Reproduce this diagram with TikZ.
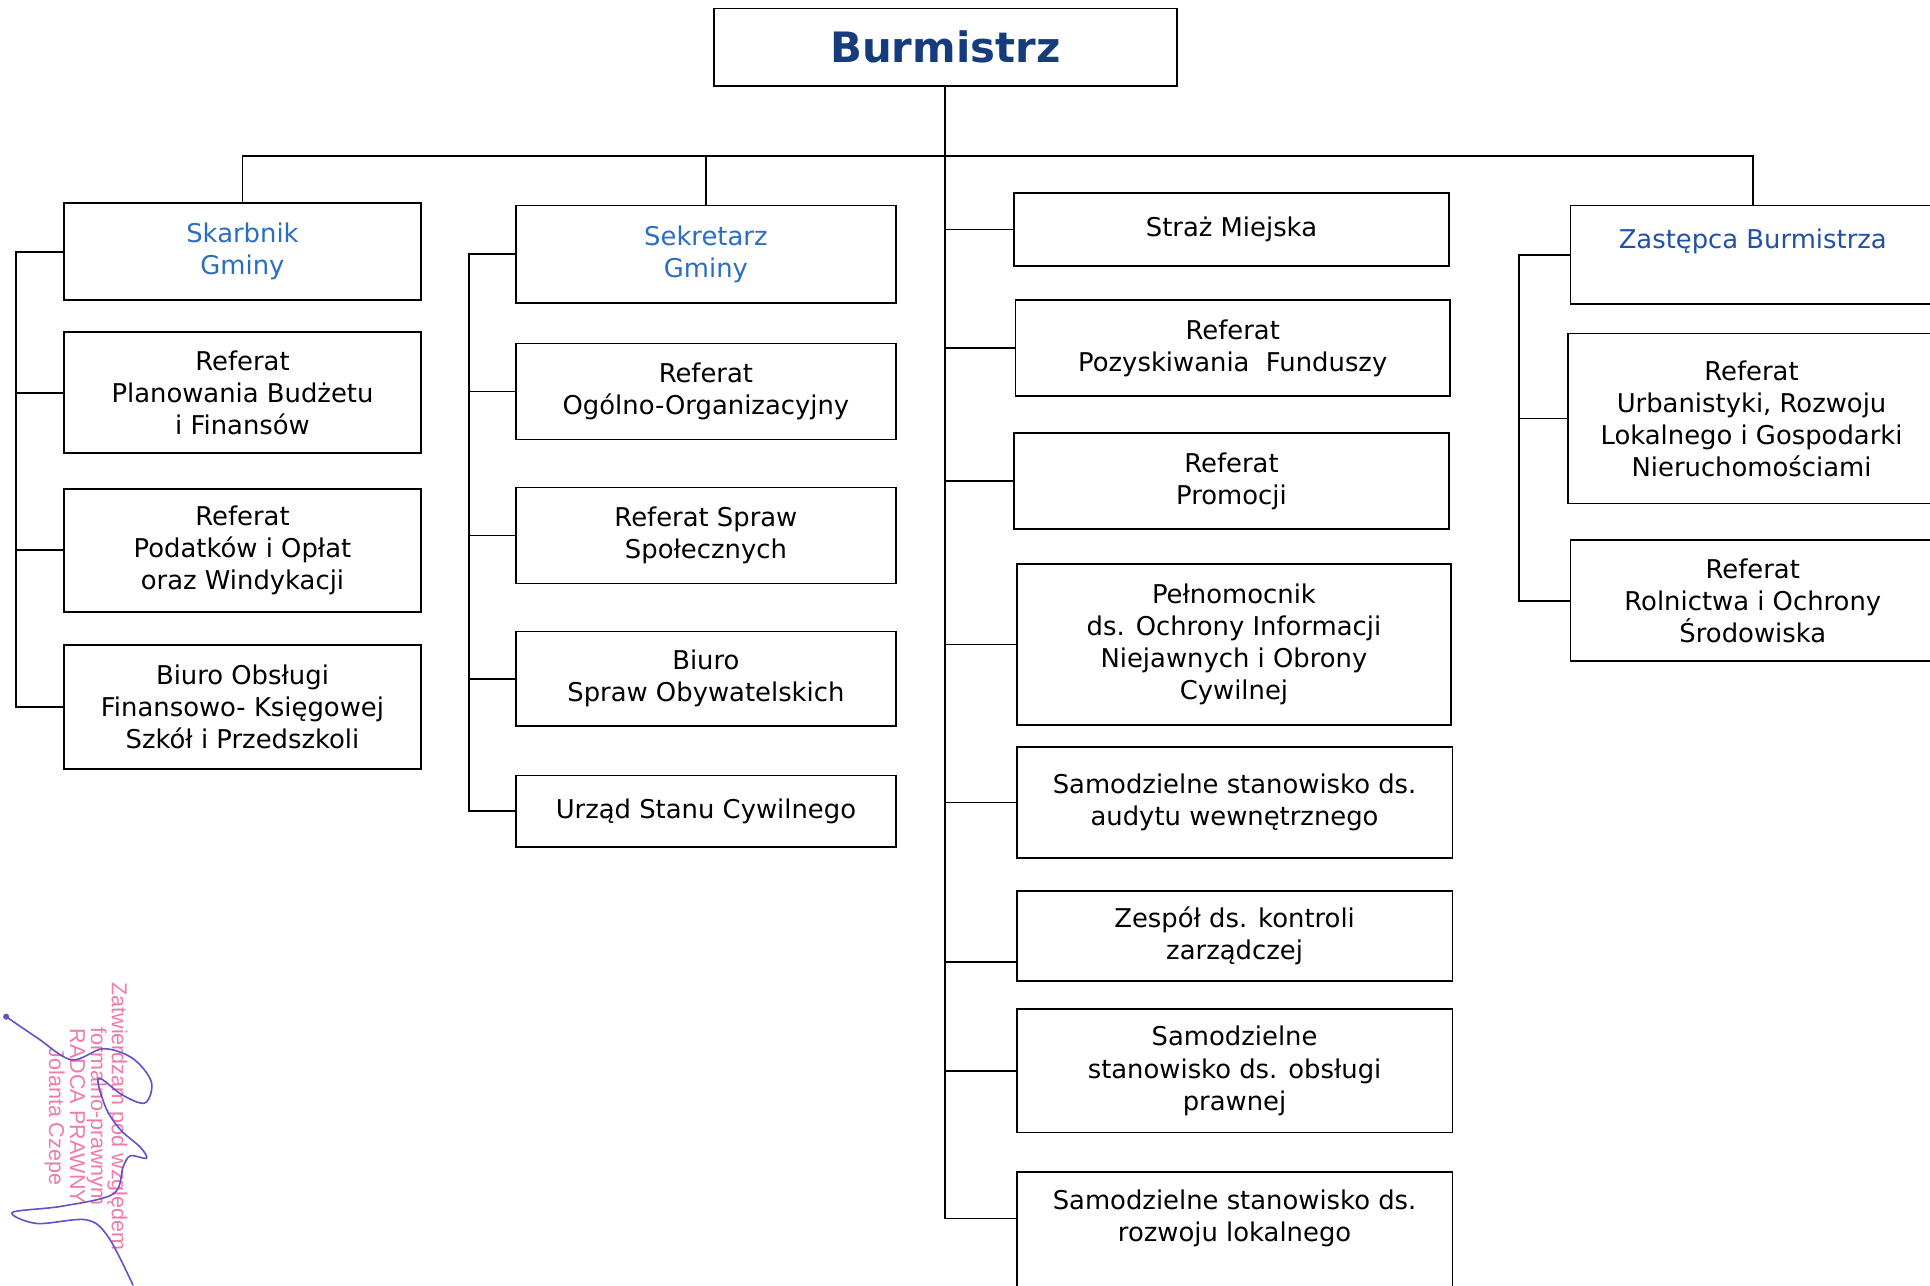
\documentclass[tikz,border=0pt]{standalone}
\usepackage{fontspec}
\setmainfont{DejaVu Sans}
\newfontfamily\stampfont{Liberation Sans}
\definecolor{OrgBurm}{HTML}{173C7E}
\definecolor{OrgGmina}{HTML}{2B6DC2}
\definecolor{OrgZast}{HTML}{2150A6}
\definecolor{OrgStamp}{HTML}{F07AA8}
\definecolor{OrgSign}{HTML}{6450CC}
\usepackage{tikz}

\tikzset{
  orgbox/.style={draw=black, line width=1.4pt, align=center, inner sep=0pt,
    font=\fontsize{21}{26}\selectfont},
  orgline/.style={draw=black, line width=1.4pt},
}

\begin{document}
\begin{tikzpicture}[x=1pt, y=-1pt]
  \useasboundingbox (0,0) rectangle (1568,1044);
  % top
  \node[orgbox, minimum width=376pt, minimum height=63pt, text=OrgBurm,
    font=\fontsize{34}{40}\selectfont\bfseries] (burm) at (768,38.5) {Burmistrz};
  % column 1
  \node[orgbox, minimum width=290pt, minimum height=79pt, text=OrgGmina] (skarb) at (197,204.5) {Skarbnik\\Gminy};
  \node[orgbox, minimum width=290pt, minimum height=98pt] (planow) at (197,319) {Referat\\Planowania Budżetu\\i Finansów};
  \node[orgbox, minimum width=290pt, minimum height=100pt] (podatk) at (197,447) {Referat\\Podatków i Opłat\\oraz Windykacji};
  \node[orgbox, minimum width=290pt, minimum height=101pt] (biurofk) at (197,574.5) {Biuro Obsługi\\Finansowo- Księgowej\\Szkół i Przedszkoli};
  % column 2
  \node[orgbox, minimum width=309pt, minimum height=79pt, text=OrgGmina] (sekr) at (573.5,206.5) {Sekretarz\\Gminy};
  \node[orgbox, minimum width=309pt, minimum height=78pt] (ogolno) at (573.5,318) {Referat\\Ogólno-Organizacyjny};
  \node[orgbox, minimum width=309pt, minimum height=78pt] (spolecz) at (573.5,435) {Referat Spraw\\Społecznych};
  \node[orgbox, minimum width=309pt, minimum height=77pt] (obywat) at (573.5,551.5) {Biuro\\Spraw Obywatelskich};
  \node[orgbox, minimum width=309pt, minimum height=58pt] (usc) at (573.5,659) {Urząd Stanu Cywilnego};
  % column 3
  \node[orgbox, minimum width=353pt, minimum height=59pt] (straz) at (1000.5,186.5) {Straż Miejska};
  \node[orgbox, minimum width=353pt, minimum height=78pt] (pozysk) at (1001.5,283) {Referat\\Pozyskiwania\ \ Funduszy};
  \node[orgbox, minimum width=353pt, minimum height=78pt] (promo) at (1000.5,391) {Referat\\Promocji};
  \node[orgbox, minimum width=353pt, minimum height=131pt] (pelnom) at (1002.5,523.5) {Pełnomocnik\\ds. Ochrony Informacji\\Niejawnych i Obrony\\Cywilnej};
  \node[orgbox, minimum width=354pt, minimum height=90pt] (audyt) at (1003,652) {Samodzielne stanowisko ds.\\audytu wewnętrznego};
  \node[orgbox, minimum width=354pt, minimum height=73pt] (zesp) at (1003,760.5) {Zespół ds. kontroli\\zarządczej};
  \node[orgbox, minimum width=354pt, minimum height=100pt] (prawna) at (1003,870) {Samodzielne\\stanowisko ds. obsługi\\prawnej};
  \node[orgbox, minimum width=354pt, minimum height=98pt] (rozwoj) at (1003,1001) {Samodzielne stanowisko ds.\\rozwoju lokalnego\\~};
  % column 4
  \node[orgbox, minimum width=296pt, minimum height=80pt, text=OrgZast] (zast) at (1424,207) {Zastępca Burmistrza\\~};
  \node[orgbox, minimum width=298pt, minimum height=138pt] (urban) at (1423,340) {Referat\\Urbanistyki, Rozwoju\\Lokalnego i Gospodarki\\Nieruchomościami};
  \node[orgbox, minimum width=296pt, minimum height=98pt] (rolnic) at (1424,488) {Referat\\Rolnictwa i Ochrony\\Środowiska};

  % connectors
  \coordinate (bus) at (768,127);
  \coordinate (spineA) at (13,0);
  \coordinate (spineB) at (381,0);
  \coordinate (spineD) at (1234,0);
  \draw[orgline] (skarb.north) -- (skarb.north |- bus) -- (zast.north |- bus) -- (zast.north);
  \draw[orgline] (sekr.north) -- (sekr.north |- bus);
  \draw[orgline] (burm.south) -- ([yshift=11pt]rozwoj.west -| burm.south) -- ([yshift=11pt]rozwoj.west);
  \foreach \n in {straz, pozysk, promo, pelnom, audyt, prawna}
    \draw[orgline] (\n.west) -- (\n.west -| burm.south);
  \draw[orgline] ([yshift=-21pt]zesp.west) -- ([yshift=-21pt]zesp.west -| burm.south);
  % side spines
  \draw[orgline] (skarb.west) -- (skarb.west -| spineA) -- (biurofk.west -| spineA) -- (biurofk.west);
  \foreach \n in {planow, podatk}
    \draw[orgline] (\n.west) -- (\n.west -| spineA);
  \draw[orgline] (sekr.west) -- (sekr.west -| spineB) -- (usc.west -| spineB) -- (usc.west);
  \foreach \n in {ogolno, spolecz, obywat}
    \draw[orgline] (\n.west) -- (\n.west -| spineB);
  \draw[orgline] (zast.west) -- (zast.west -| spineD) -- (rolnic.west -| spineD) -- (rolnic.west);
  \draw[orgline] (urban.west) -- (urban.west -| spineD);

  % stamp and signature
  \node[rotate=-90, text=OrgStamp, align=center, inner sep=0pt,
    font=\stampfont\fontsize{17.5}{17}\selectfont] (stamp) at (70,907)
    {Zatwierdzam pod względem\\formalno-prawnym\\RADCA PRAWNY\\Jolanta Czepe};
  \fill[OrgSign] (5,826) circle (2.5);
  \draw[OrgSign, line width=1.3pt, line cap=round] plot[smooth, tension=0.55] coordinates
    {(5,826) (30,843) (58,861) (84,852) (108,860) (123,879) (118,896) (100,890)
     (80,876) (86,900) (98,918) (114,932) (119,941) (106,939) (100,948) (92,970)
     (50,980) (10,985) (30,994) (70,991) (88,1005) (108,1044)};
\end{tikzpicture}
\end{document}
